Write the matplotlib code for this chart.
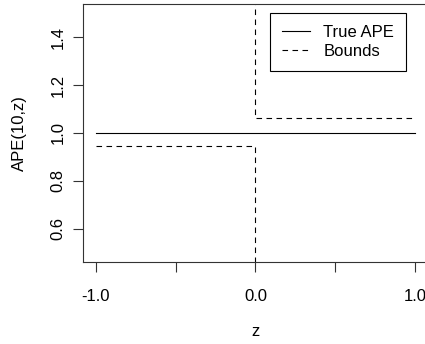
import numpy as np
import matplotlib.pyplot as plt

plt.rcParams['font.family'] = ['Liberation Sans', 'DejaVu Sans']

# true APE(10, z) and its bounds
z_true = [-1.0, 1.0]
ape_true = [1.0, 1.0]
z_lower = [-1.0, 0.0, 0.0]
ape_lower = [0.945, 0.945, 0.0]
z_upper = [0.0, 0.0, 1.0]
ape_upper = [2.0, 1.0625, 1.0625]

x_ticks = [-1.0, -0.5, 0.0, 0.5, 1.0]
x_labels = ['-1.0', '', '0.0', '', '1.0']
y_ticks = [0.6, 0.8, 1.0, 1.2, 1.4]
y_labels = ['0.6', '0.8', '1.0', '1.2', '1.4']

fig = plt.figure(figsize=(4.25, 3.44), dpi=100)
ax = fig.add_axes([0.1953, 0.2384, 0.8113, 0.75])

dash = (0, (5, 4))
ax.plot(z_true, ape_true, color='black', lw=0.8, label='True APE')
ax.plot(z_lower, ape_lower, color='black', lw=0.8, linestyle=dash, label='Bounds')
ax.plot(z_upper, ape_upper, color='black', lw=0.8, linestyle=dash)

ax.set_xlim(-1.08, 1.08)
ax.set_ylim(0.46, 1.54)

ax.set_xticks(x_ticks)
ax.set_xticklabels(x_labels)
ax.set_yticks(y_ticks)
ax.set_yticklabels(y_labels, rotation=90, va='center')
ax.tick_params(length=7, width=0.8, color='#333333', labelsize=12)
ax.tick_params(axis='x', pad=12.5)
ax.tick_params(axis='y', pad=5.5)
for s in ax.spines.values():
    s.set_color('#333333')
    s.set_linewidth(0.8)

ax.set_xlabel('z', fontsize=12, labelpad=14)
ax.set_ylabel('APE(10,z)', fontsize=12, labelpad=17)

leg = ax.legend(loc='upper right', bbox_to_anchor=(0.937, 0.965), borderaxespad=0,
                fancybox=False, edgecolor='black', framealpha=1, fontsize=12,
                handlelength=1.7, handletextpad=0.8, labelspacing=0.22,
                borderpad=0.72)
leg.get_frame().set_linewidth(0.8)

plt.savefig('out.png', dpi=100)
